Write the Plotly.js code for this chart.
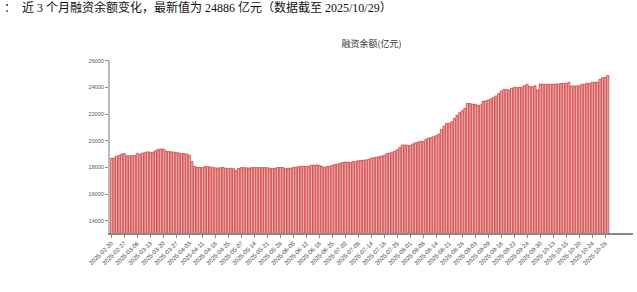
<!DOCTYPE html>
<html>
<head>
<meta charset="utf-8">
<script src="https://cdn.plot.ly/plotly-3.0.1.min.js"></script>
<style>html,body{margin:0;padding:0;background:#fff;}#chart{width:637px;height:292px;}</style>
</head>
<body>
<div id="chart"></div>
<script>
// 融资余额 (亿元), one bar per record
const balance = [
18680,18700,18830,18900,19000,19030,18870,18870,18880,18880,
19050,18980,19080,19100,19170,19130,19140,19250,19350,19370,
19380,19230,19180,19170,19150,19120,19080,19050,19030,19000,
18920,18450,18080,17990,18000,17980,18060,18070,18030,18000,
17960,17950,17980,18000,17930,17930,17930,17900,17760,17920,
17980,17980,17970,17950,17980,17990,17980,17980,17990,17980,
17980,17930,17910,17930,17990,17990,17990,17910,17930,17940,
18000,18010,18070,18080,18080,18070,18090,18160,18170,18180,
18150,18080,18000,18070,18090,18160,18210,18240,18320,18370,
18400,18390,18370,18420,18440,18500,18520,18540,18560,18600,
18690,18730,18760,18790,18850,18910,19040,19080,19140,19200,
19320,19500,19670,19680,19660,19640,19760,19850,19900,19950,
19930,20100,20200,20230,20300,20380,20500,20850,21100,21300,
21310,21420,21680,21900,22100,22250,22430,22800,22790,22730,
22730,22650,22680,22950,22980,23050,23130,23250,23350,23530,
23730,23850,23840,23800,23930,24000,24000,23990,24010,24130,
24230,24060,24050,24120,23800,24250,24230,24230,24230,24240,
24230,24250,24260,24280,24300,24300,24380,24100,24100,24110,
24120,24230,24240,24300,24300,24380,24380,24390,24600,24730,
24750,24886
];

// date labels shown every 5 bars
const tickLabels = [
"2025-02-20","2025-02-27","2025-03-06","2025-03-13","2025-03-20","2025-03-27",
"2025-04-03","2025-04-11","2025-04-18","2025-04-25","2025-05-07","2025-05-14",
"2025-05-21","2025-05-28","2025-06-05","2025-06-12","2025-06-18","2025-06-25",
"2025-07-02","2025-07-08","2025-07-14","2025-07-18","2025-07-25","2025-08-01",
"2025-08-08","2025-08-14","2025-08-21","2025-08-28","2025-09-03","2025-09-09",
"2025-09-16","2025-09-22","2025-09-24","2025-09-30","2025-10-13","2025-10-15",
"2025-10-20","2025-10-24","2025-10-28"
];
const tickStep = 5;
const yTicks = [14000,16000,18000,20000,22000,24000,26000];

const headerText = "：  近 3 个月融资余额变化，最新值为 24886 亿元（数据截至 2025/10/29）";
const chartTitle = "融资余额(亿元)";

const xIdx = balance.map((_, i) => i);
const tickvals = tickLabels.map((_, k) => k * tickStep);

const trace = {
  type: 'bar',
  x: xIdx,
  y: balance,
  marker: {
    color: 'rgb(238,182,182)',
    line: {color: 'rgb(208,62,62)', width: 0.8}
  },
  hoverinfo: 'skip'
};

const L = 110, R = 633, W = 637, H = 292;
const layout = {
  width: W, height: H,
  margin: {l: L, r: W - R, t: 60, b: 59, pad: 0},
  paper_bgcolor: '#fff', plot_bgcolor: '#fff',
  showlegend: false,
  bargap: 0.22,
  title: {
    text: chartTitle,
    font: {family: 'Noto Sans CJK SC, sans-serif', size: 9, color: '#333'},
    x: (L + R) / 2 / W, xref: 'container', xanchor: 'center',
    y: 1 - 44 / H, yref: 'container', yanchor: 'middle'
  },
  xaxis: {
    type: 'linear',
    range: [-0.5, 200.7],
    tickmode: 'array',
    tickvals: tickvals,
    ticktext: tickLabels,
    tickangle: -45,
    tickfont: {family: 'Liberation Sans, Arial, sans-serif', size: 6, color: '#444'},
    ticks: 'outside', ticklen: 3, tickwidth: 1, tickcolor: '#888',
    showline: true, linecolor: '#888', linewidth: 1.5,
    showgrid: false, zeroline: false, fixedrange: true
  },
  yaxis: {
    range: [13080, 26050],
    tickmode: 'array',
    tickvals: yTicks,
    tickformat: 'd',
    tickfont: {family: 'Liberation Sans, Arial, sans-serif', size: 5.5, color: '#555'},
    ticks: 'outside', ticklen: 3, tickwidth: 1, tickcolor: '#888',
    showline: true, linecolor: '#bbb', linewidth: 2,
    showgrid: false, zeroline: false, fixedrange: true
  },
  annotations: [{
    text: headerText,
    xref: 'paper', yref: 'paper',
    x: (2 - L) / (R - L), y: 1 + (60 - 7) / (H - 60 - 59),
    xanchor: 'left', yanchor: 'middle', showarrow: false,
    font: {family: 'Liberation Serif, Noto Sans CJK SC, serif', size: 12, color: '#111'}
  }]
};

Plotly.newPlot('chart', [trace], layout, {staticPlot: true, displayModeBar: false});
</script>
</body>
</html>
